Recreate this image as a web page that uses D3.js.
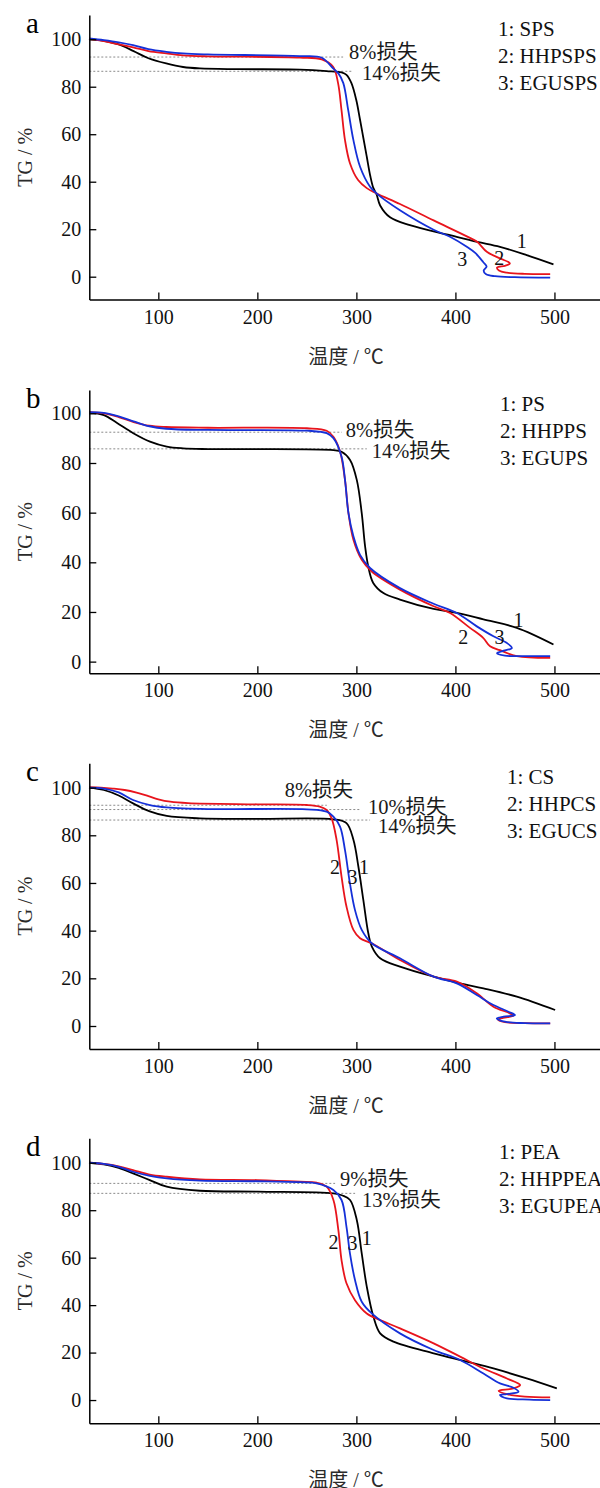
<!DOCTYPE html>
<html>
<head>
<meta charset="utf-8">
<script src="https://cdn.jsdelivr.net/npm/d3@7"></script>
<style>
  html, body { margin: 0; padding: 0; background: #fff; }
  svg { display: block; }
</style>
</head>
<body>
<svg id="chart" width="600" height="1488"></svg>
<script>
// ---- TG curves: [temperature °C, mass %] ----
const SPS = [[30,100],[45,99.3],[60,97.8],[75,95],[90,92],[108,89.8],[125,88.3],[142,87.7],[180,87.4],[243,87.2],[270,86.6],[285,86],[290,85],[295,81.5],[300,74.2],[303.5,66.5],[307,58.5],[310.5,50.5],[314,42.5],[317,37.5],[320.5,34.5],[324,30],[334,25],[354,21.7],[394.5,17.5],[422,14.7],[445,12.6],[472,9.1],[499,5.2]];
const HHPSPS = [[30,100],[45,99.2],[60,97.8],[74.5,96.6],[90,95],[108,94],[125,93.2],[150,92.8],[243,92.3],[265,91.5],[276.5,88.4],[281.5,81.5],[285,70],[288.5,57.5],[293.5,47.8],[301.7,40.7],[310.5,37.3],[320.6,35],[344,30.6],[378,23.7],[411.5,17],[421.9,14.7],[431.7,10.5],[446,7.5],[453,6.3],[455,5.5],[450,4.6],[442,3.8],[444,2.6],[452,1.7],[470,1.2],[495.7,1.1]];
const EGUSPS = [[30,100.3],[45,99.6],[60,98.7],[74.5,97.5],[90,95.8],[108,94.7],[125,94],[150,93.6],[243,92.9],[265,92.2],[276.5,87.7],[282,85.5],[286.8,81.5],[291.8,70],[297,57.5],[303.7,46.3],[313.8,37.9],[320.6,35],[344,28],[378,19.8],[394.5,16.8],[411.5,12.6],[420,10],[428,6.2],[431.5,4.3],[428.5,2.5],[431,1],[440,0.2],[460,-0.2],[495.7,-0.4]];

const PS = [[30,100.3],[45,99.3],[58,96.2],[74.7,92],[91.6,88.6],[108.5,86.6],[125,85.9],[150,85.6],[276.8,85.2],[285,84.5],[293.6,81.2],[300.4,73.2],[305.4,59.8],[308.8,46.4],[312,38.3],[317,31.7],[327.3,27.6],[344,25],[378,21.2],[401.4,19.6],[428.3,17],[462,13.6],[499,6.9]];
const HHPPS = [[30,100.5],[45,100],[60,98.5],[75,96.5],[91,95],[108,94.5],[150,94.2],[250,94],[270,93],[276.8,90.6],[283.5,84.6],[288.5,73.2],[292,59.8],[297,49.1],[305.4,41],[315.5,36.3],[344,29],[378,22.3],[394.6,19.6],[414.7,13.6],[428,9.6],[435,6.2],[445,4.6],[462,2.2],[495.7,1.5]];
const EGUPS = [[30,100.5],[45,100.2],[60,98.8],[75,96.8],[91,94.8],[108,93.8],[150,93.3],[250,93],[270,92],[276.8,90],[285,82.6],[288.5,73.2],[292,59.8],[297,50.5],[303.7,43],[313.8,37.7],[344,29.6],[378,23.3],[401.4,19.6],[421.6,14.2],[438.4,10.2],[452,7.5],[457,5.5],[450,4.5],[442,3.4],[450,2.4],[470,2.2],[495.7,2.2]];

const CS = [[30,100],[45,99],[60,96.7],[74.5,93.4],[91.4,90],[108.5,88.1],[142,87.1],[200,86.9],[276.8,86.7],[290,85.1],[297,78.1],[302,66.9],[307,52.9],[312,39],[315.5,33.4],[324,28.4],[344,24.9],[378,20.7],[404.7,17.9],[428.3,15.8],[462,12.3],[500.7,6.7]];
const HHPCS = [[30,100.2],[42,100],[54,99.6],[66,99],[78,97.9],[90,96.4],[100,95.1],[112,94.1],[130,93.5],[200,93],[250,92.7],[263,92],[270,90.6],[275,87.1],[280,78.1],[285,62.7],[290,50.1],[297,40.3],[303.7,36.8],[315.5,34.7],[344,27.7],[378,20.7],[401.4,18.6],[421.6,13.7],[438.4,8.1],[455,5.3],[458.5,4.3],[448,3.4],[443,2.6],[450,1.6],[470,1.2],[495.7,1.1]];
const EGUCS = [[30,100],[45,99.6],[60,98],[74.5,94.8],[91.4,92.7],[108.5,91.7],[150,91],[250,90.9],[270,89.9],[276.8,87.8],[283.5,83.6],[288.5,73.8],[293.5,59.8],[298.6,48.6],[305.4,40.3],[315.5,34.7],[344,28.4],[378,20.7],[401.4,17.9],[421.6,13],[438.4,8.8],[453.6,6],[460.2,4.6],[448.6,3.9],[441.8,3.2],[450,1.8],[470,1.2],[495.7,1.1]];

const PEA = [[30,100],[45,99.3],[60,97.8],[74.5,95.5],[91.4,92.7],[108.5,89.9],[142,88.2],[200,87.8],[276.8,87.1],[286,86.2],[293.6,84.3],[300.4,75.9],[305.4,61.8],[310.5,47.8],[317.2,35.1],[324,28.1],[337.4,24.6],[378,19.7],[411.5,16.2],[438.4,13.3],[472,9.1],[502.4,4.9]];
const HHPPEA = [[30,100],[45,99.5],[60,98.5],[74.5,96.9],[91.4,95],[108.5,94.1],[142,93],[200,92.7],[243,92],[259.8,91.6],[270,89.9],[276.8,84.3],[281.8,71.6],[285,59],[290,49.2],[298.6,42.1],[310.5,36.5],[324,33.7],[344,30.2],[378,23.9],[404.7,18.3],[428.3,13.3],[452,9.1],[465.4,6.3],[458.5,4.9],[443.6,3.9],[452,2.5],[470,1.4],[495.7,1.1]];
const EGUPEA = [[30,100],[45,99.5],[60,98.3],[74.5,96.2],[91.4,94.5],[108.5,93.4],[142,92.5],[200,92.2],[243,91.8],[259.8,91.3],[276.8,88.5],[285,84.3],[290,73],[293.5,61.8],[298.6,50.6],[305.4,41.4],[315.5,36.5],[344,28.1],[378,21.1],[404.7,16.9],[428.3,11.2],[445,7],[458.5,5.2],[463.7,3.5],[452,2.5],[445,2.1],[452,0.7],[475,0.2],[495.7,0]];

// ---- legends ----
const legendA = ["1: SPS", "2: HHPSPS", "3: EGUSPS"];
const legendB = ["1: PS", "2: HHPPS", "3: EGUPS"];
const legendC = ["1: CS", "2: HHPCS", "3: EGUCS"];
const legendD = ["1: PEA", "2: HHPPEA", "3: EGUPEA"];

// ---- mass-loss reference levels: [level %, end temperature, label] ----
const lossA = [[92.5, 286.6, "8%损失"], [86.5, 296.7, "14%损失"]];
const lossB = [[92.4, 285.3, "8%损失"], [85.7, 310.5, "14%损失"]];
const lossC = [[92.6, 270.1, "8%损失"], [90.8, 303.7, "10%损失"], [86.4, 313.8, "14%损失"]];
const lossD = [[91.3, 278.5, "9%损失"], [87.1, 298.7, "13%损失"]];

// ---- curve number labels: [temperature, mass %, text] ----
const tagsA = [[467, 15.1, "1"], [444.2, 7.9, "2"], [407, 7.3, "3"]];
const tagsB = [[463.6, 16.8, "1"], [408, 10.1, "2"], [444.4, 9.8, "3"]];
const tagsC = [[278.5, 66.8, "2"], [296, 62.7, "3"], [307.8, 66.8, "1"]];
const tagsD = [[276.8, 66.7, "2"], [296, 66.3, "3"], [310.5, 68.1, "1"]];

// ---- ticks ----
const xTicks = [100, 200, 300, 400, 500];
const yTicks = [0, 20, 40, 60, 80, 100];
const xDomain = [30.3, 546];

// ---- layout ----
const SERIF = "'Liberation Serif', 'Times New Roman', serif";
const CJK = "'Liberation Serif', 'Noto Sans CJK SC', serif";
const colors = ["#000000", "#e8141c", "#1530d8"];

const panels = [
  { letter: "a", top: 15, bottom: 299.5, yDomain: [-9.6, 110.2], series: [SPS, HHPSPS, EGUSPS], legend: legendA, legendX: 498, loss: lossA, tags: tagsA,
    lossText: [[6, -5], [9, 2]] },
  { letter: "b", top: 390, bottom: 673.3, yDomain: [-4.7, 109.4], series: [PS, HHPPS, EGUPS], legend: legendB, legendX: 500, loss: lossB, tags: tagsB,
    lossText: [[4, -2], [5, 2]] },
  { letter: "c", top: 763.3, bottom: 1049, yDomain: [-9.65, 110.2], series: [CS, HHPCS, EGUCS], legend: legendC, legendX: 507, loss: lossC, tags: tagsC,
    lossText: [[-42, -15], [8, -3], [8, 6]] },
  { letter: "d", top: 1138.3, bottom: 1423.3, yDomain: [-9.8, 110.3], series: [PEA, HHPPEA, EGUPEA], legend: legendD, legendX: 499, loss: lossD, tags: tagsD,
    lossText: [[5, -4], [7, 7]] }
];

const svg = d3.select("#chart");
const x = d3.scaleLinear().domain(xDomain).range([89.3, 600]);

panels.forEach(p => {
  const y = d3.scaleLinear().domain(p.yDomain).range([p.bottom, p.top]);
  const g = svg.append("g");

  // reference dotted lines
  p.loss.forEach((d, i) => {
    g.append("line")
      .attr("x1", x.range()[0]).attr("x2", x(d[1]))
      .attr("y1", y(d[0])).attr("y2", y(d[0]))
      .attr("stroke", "#8a8a8a").attr("stroke-width", 1)
      .attr("stroke-dasharray", "2,2");
    g.append("text")
      .attr("x", x(d[1]) + p.lossText[i][0])
      .attr("y", y(d[0]) + p.lossText[i][1])
      .attr("dominant-baseline", "central")
      .attr("font-family", CJK).attr("font-size", 20.5).attr("fill", "#1a1a1a")
      .text(d[2]);
  });

  // curves
  const line = d3.line()
    .x(d => x(d[0])).y(d => y(d[1]))
    .curve(d3.curveCatmullRom.alpha(0.5));
  [0, 1, 2].forEach(i => {
    g.append("path")
      .datum(p.series[i])
      .attr("d", line)
      .attr("fill", "none")
      .attr("stroke", colors[i])
      .attr("stroke-width", 1.8)
      .attr("stroke-linejoin", "round");
  });

  // axes with inward ticks
  const xAxis = d3.axisBottom(x).tickValues(xTicks).tickSizeInner(-7).tickSizeOuter(0).tickPadding(10);
  const yAxis = d3.axisLeft(y).tickValues(yTicks).tickSizeInner(-7).tickSizeOuter(0).tickPadding(8);

  const gx = g.append("g").attr("transform", `translate(0,${p.bottom})`).call(xAxis);
  const gy = g.append("g").attr("transform", `translate(${x.range()[0]},0)`).call(yAxis);
  [gx, gy].forEach(a => {
    a.select(".domain").attr("stroke", "#000").attr("stroke-width", 1.5);
    a.selectAll(".tick line").attr("stroke", "#000").attr("stroke-width", 1.3);
    a.selectAll(".tick text").attr("font-family", SERIF).attr("font-size", 20).attr("fill", "#111");
  });

  // axis titles
  g.append("text")
    .attr("x", 346).attr("y", p.bottom + 57)
    .attr("text-anchor", "middle").attr("dominant-baseline", "central")
    .attr("font-family", CJK).attr("font-size", 20).attr("fill", "#2a2a2a")
    .text("温度 / ℃");
  g.append("text")
    .attr("transform", `translate(25,${(p.top + p.bottom) / 2}) rotate(-90)`)
    .attr("text-anchor", "middle").attr("dominant-baseline", "central")
    .attr("font-family", SERIF).attr("font-size", 20).attr("fill", "#2a2a2a")
    .text("TG / %");

  // panel letter
  g.append("text")
    .attr("x", 26).attr("y", p.top + 18)
    .attr("font-family", SERIF).attr("font-size", 29).attr("fill", "#000")
    .text(p.letter);

  // legend
  p.legend.forEach((t, i) => {
    g.append("text")
      .attr("x", p.legendX).attr("y", p.top + 21 + i * 27)
      .attr("font-family", SERIF).attr("font-size", 21).attr("fill", "#111")
      .text(t);
  });

  // curve numbers
  p.tags.forEach(d => {
    g.append("text")
      .attr("x", x(d[0])).attr("y", y(d[1]))
      .attr("text-anchor", "middle").attr("dominant-baseline", "central")
      .attr("font-family", SERIF).attr("font-size", 20).attr("fill", "#111")
      .text(d[2]);
  });
});
</script>
</body>
</html>
